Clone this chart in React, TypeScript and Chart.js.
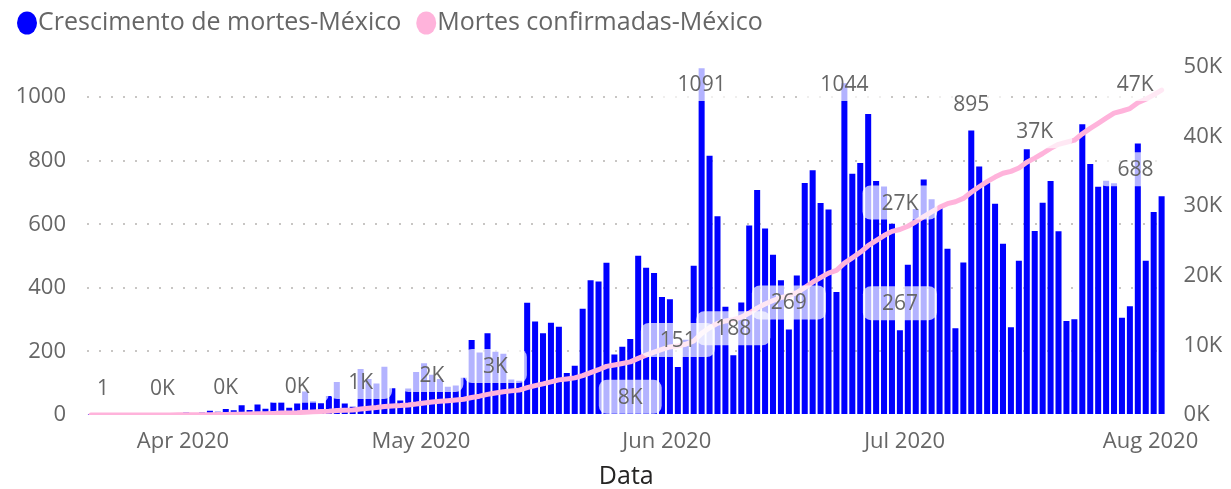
import React, { useEffect, useRef } from 'react';
import { Chart, registerables } from 'chart.js';

Chart.register(...registerables);

// ---------- data ----------
const START_DATE = '2020-03-18';

const seriesNames = ['Crescimento de mortes-México', 'Mortes confirmadas-México'];

// daily deaths, 18 Mar 2020 .. 31 Jul 2020
const dailyDeaths = [
  // Mar 18-31
  1, 0, 0, 1, 0, 2, 1, 1, 2, 4, 4, 4, 8, 1,
  // Apr
  8, 13, 10, 19, 15, 31, 16, 33, 20, 39, 40, 23, 36, 74, 43, 37, 60, 104, 36, 26,
  145, 113, 99, 152, 84, 46, 83, 135, 163, 127,
  // May
  113, 89, 93, 117, 236, 197, 257, 199, 193, 112, 108, 353, 294, 257, 290, 278, 132, 155,
  334, 424, 420, 479, 190, 215, 239, 501, 463, 447, 371, 364, 151,
  // Jun
  237, 470, 1091, 816, 625, 341, 188, 354, 596, 708, 587, 504, 424, 269, 439, 730, 770,
  667, 647, 387, 1044, 759, 793, 947, 736, 719, 602, 267, 473, 648,
  // Jul
  741, 679, 654, 523, 273, 480, 895, 782, 730, 665, 539, 276, 485, 836, 579, 668, 736,
  578, 296, 301, 915, 790, 718, 737, 729, 306, 342, 854, 485, 639, 688,
];

// confirmed deaths (cumulative), same dates
const confirmedDeaths = [
  1, 1, 1, 2, 2, 4, 5, 6, 8, 12, 16, 20, 28, 29,
  37, 50, 60, 79, 94, 125, 141, 174, 194, 233, 273, 296, 332, 406, 449, 486, 546, 650,
  686, 712, 857, 970, 1069, 1221, 1305, 1351, 1434, 1569, 1732, 1859,
  1972, 2061, 2154, 2271, 2507, 2704, 2961, 3160, 3353, 3465, 3573, 3926, 4220, 4477,
  4767, 5045, 5177, 5332, 5666, 6090, 6510, 6989, 7179, 7394, 7633, 8134, 8597, 9044,
  9415, 9779, 9930,
  10167, 10637, 11728, 12544, 13169, 13510, 13698, 14052, 14648, 15356, 15943, 16447,
  16871, 17140, 17579, 18309, 19079, 19746, 20393, 20780, 21824, 22583, 23376, 24323,
  25059, 25778, 26380, 26647, 27120, 27768,
  28509, 29188, 29842, 30365, 30638, 31118, 32013, 32795, 33525, 34190, 34729, 35005,
  35490, 36326, 36905, 37573, 38309, 38887, 39183, 39484, 40399, 41189, 41907, 42644,
  43373, 43679, 44021, 44875, 45360, 45999, 46687,
];

const monthTickDates = ['2020-04-01', '2020-05-01', '2020-06-01', '2020-07-01', '2020-08-01'];
const monthTickLabels = ['Apr 2020', 'May 2020', 'Jun 2020', 'Jul 2020', 'Aug 2020'];
const leftTicks = [0, 200, 400, 600, 800, 1000];
const rightTicks = [0, 10000, 20000, 30000, 40000, 50000];

// which points carry a data label (series, date, placement)
const dataLabels = [
  { series: 'bar', date: '2020-03-18', place: 'above' },
  { series: 'line', date: '2020-03-27', place: 'above' },
  { series: 'line', date: '2020-04-04', place: 'above' },
  { series: 'line', date: '2020-04-13', place: 'above' },
  { series: 'line', date: '2020-04-21', place: 'above' },
  { series: 'line', date: '2020-04-30', place: 'above' },
  { series: 'line', date: '2020-05-08', place: 'above' },
  { series: 'line', date: '2020-05-25', place: 'below' },
  { series: 'bar', date: '2020-05-31', place: 'above' },
  { series: 'bar', date: '2020-06-03', place: 'above' },
  { series: 'bar', date: '2020-06-07', place: 'above' },
  { series: 'bar', date: '2020-06-14', place: 'above' },
  { series: 'bar', date: '2020-06-21', place: 'above' },
  { series: 'bar', date: '2020-06-28', place: 'above' },
  { series: 'line', date: '2020-06-28', place: 'above' },
  { series: 'bar', date: '2020-07-07', place: 'above' },
  { series: 'line', date: '2020-07-15', place: 'above' },
  { series: 'line', date: '2020-07-31', place: 'above' },
  { series: 'bar', date: '2020-07-31', place: 'above' },
];

// ---------- style ----------
const FONT = "'Open Sans', 'Noto Sans', sans-serif";
const BLUE = '#0000FF';
const PINK = '#FFB3DB';
const TEXT = '#666666';
const TITLE = '#252423';

const dayIndex = (d: string) =>
  Math.round((Date.parse(d + 'T00:00:00Z') - Date.parse(START_DATE + 'T00:00:00Z')) / 86400000);

const legendPlugin = {
  id: 'pbiLegend',
  afterDraw(chart: any) {
    const ctx = chart.ctx;
    ctx.save();
    ctx.font = `25px ${FONT}`;
    ctx.textBaseline = 'middle';
    ctx.textAlign = 'left';
    const colors = [BLUE, PINK];
    let x = 17;
    const y = 23;
    seriesNames.forEach((name, i) => {
      ctx.fillStyle = colors[i];
      ctx.beginPath();
      ctx.ellipse(x + 10, y, 10, 11.5, 0, 0, Math.PI * 2);
      ctx.fill();
      ctx.fillStyle = TEXT;
      ctx.fillText(name, x + 21, y);
      x += 21 + ctx.measureText(name).width + 15;
    });
    ctx.restore();
  },
};

const labelsPlugin = {
  id: 'pbiLabels',
  afterDatasetsDraw(chart: any) {
    const { ctx, chartArea } = chart;
    const barMeta = chart.getDatasetMeta(0);
    const lineMeta = chart.getDatasetMeta(1);
    ctx.save();
    ctx.font = `21px ${FONT}`;
    ctx.textAlign = 'center';
    ctx.textBaseline = 'middle';
    for (const spec of dataLabels) {
      const i = dayIndex(spec.date);
      const isBar = spec.series === 'bar';
      const el = (isBar ? barMeta : lineMeta).data[i];
      if (!el) continue;
      const value = isBar ? dailyDeaths[i] : confirmedDeaths[i];
      const text = isBar ? String(value) : Math.round(value / 1000) + 'K';
      const tw = ctx.measureText(text).width;
      const x = Math.min(
        Math.max(el.x, chartArea.left + tw / 2 + 10),
        chartArea.right - tw / 2 - 12
      );
      const y =
        spec.place === 'below' ? el.y + 35 : Math.max(el.y - 27, chartArea.top + 17);
      const bw = tw + 38;
      const bh = 34;
      ctx.fillStyle = 'rgba(255,255,255,0.7)';
      ctx.beginPath();
      ctx.roundRect(x - bw / 2, y - bh / 2, bw, bh, 8);
      ctx.fill();
      ctx.fillStyle = TEXT;
      ctx.fillText(text, x, y + 1);
    }
    ctx.restore();
  },
};

export default function App() {
  const canvasRef = useRef<HTMLCanvasElement | null>(null);

  useEffect(() => {
    const canvas = canvasRef.current;
    if (!canvas) return;
    const n = dailyDeaths.length;
    const chart = new Chart(canvas, {
      type: 'bar',
      data: {
        datasets: [
          {
            type: 'bar',
            label: seriesNames[0],
            data: dailyDeaths.map((v, i) => ({ x: i, y: v })),
            backgroundColor: BLUE,
            borderWidth: 0,
            barPercentage: 0.76,
            categoryPercentage: 1,
            xAxisID: 'x',
            yAxisID: 'y',
            order: 2,
          } as any,
          {
            type: 'line',
            label: seriesNames[1],
            data: confirmedDeaths.map((v, i) => ({ x: i, y: v })),
            borderColor: PINK,
            backgroundColor: PINK,
            borderWidth: 5,
            pointRadius: 0,
            tension: 0,
            borderJoinStyle: 'round',
            borderCapStyle: 'round',
            xAxisID: 'x',
            yAxisID: 'y1',
            order: 1,
          } as any,
        ],
      },
      options: {
        animation: false,
        responsive: true,
        maintainAspectRatio: false,
        layout: { padding: { top: 67, left: 0, right: 0, bottom: 0 } },
        plugins: {
          legend: { display: false },
          tooltip: { enabled: false },
        },
        scales: {
          x: {
            type: 'linear',
            min: -0.5,
            max: n - 0.5,
            offset: false,
            grid: { display: false, drawTicks: false },
            border: { display: false },
            afterBuildTicks: (s: any) => {
              s.ticks = monthTickDates.map((d) => ({ value: dayIndex(d) }));
            },
            ticks: {
              autoSkip: false,
              maxRotation: 0,
              minRotation: 0,
              padding: 14,
              labelOffset: -19,
              color: TEXT,
              font: { size: 22, family: FONT },
              callback: (v: any) => {
                const k = monthTickDates.findIndex((d) => dayIndex(d) === v);
                return k >= 0 ? monthTickLabels[k] : '';
              },
            },
            title: {
              display: true,
              text: 'Data',
              color: TITLE,
              font: { size: 25, family: FONT },
              padding: { top: 0, bottom: -3 },
            },
            afterFit: (s: any) => {
              s.height = 74;
            },
          } as any,
          y: {
            type: 'linear',
            position: 'left',
            min: 0,
            max: 1095,
            afterBuildTicks: (s: any) => {
              s.ticks = leftTicks.map((v) => ({ value: v }));
            },
            grid: {
              drawTicks: false,
              lineWidth: 2,
              color: (c: any) => (c.tick && c.tick.value === 0 ? 'rgba(0,0,0,0)' : '#C8C6C4'),
            },
            border: { display: false, dash: [2, 10] },
            ticks: {
              padding: 21,
              color: TEXT,
              font: { size: 22, family: FONT },
              callback: (v: any) => String(v),
            },
            afterFit: (s: any) => {
              s.width = 87;
            },
          } as any,
          y1: {
            type: 'linear',
            position: 'right',
            min: 0,
            max: 50000,
            afterBuildTicks: (s: any) => {
              s.ticks = rightTicks.map((v) => ({ value: v }));
            },
            grid: { display: false, drawTicks: false },
            border: { display: false },
            ticks: {
              padding: 18,
              color: TEXT,
              font: { size: 22, family: FONT },
              callback: (v: any) => Math.round(Number(v) / 1000) + 'K',
            },
            afterFit: (s: any) => {
              s.width = 63;
            },
          } as any,
        },
      },
      plugins: [labelsPlugin, legendPlugin],
    });
    return () => chart.destroy();
  }, []);

  return (
    <div style={{ position: 'fixed', left: 0, top: 0, width: 1231, height: 489, background: '#fff' }}>
      <canvas ref={canvasRef} />
    </div>
  );
}
